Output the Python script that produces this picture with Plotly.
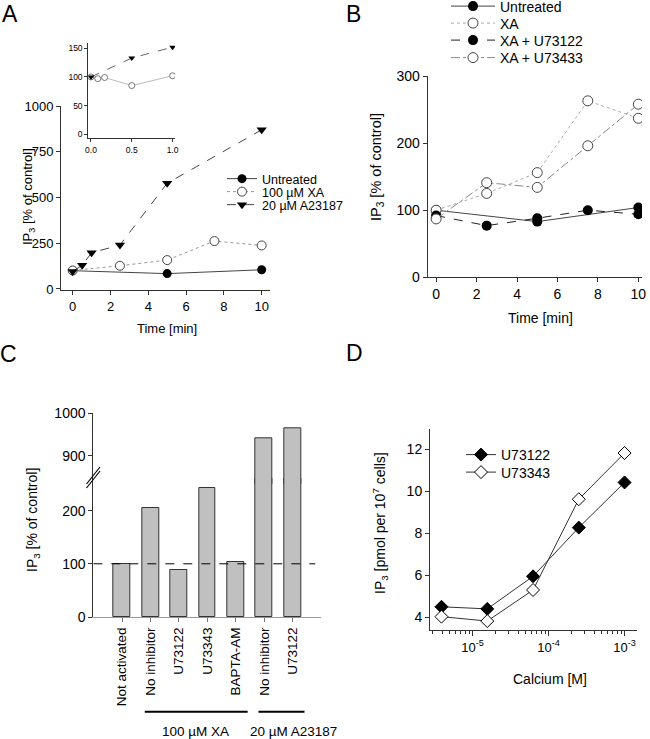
import plotly.graph_objects as go

W, H = 650, 739
FONT = "Liberation Sans, Arial, sans-serif"
AX = "#333333"


def px(x):
    return x / W


def py(y):
    return 1 - y / H


# ---------------- data ----------------
# Panel A (main)
a_untr_t = [0, 5, 10]
a_untr_v = [100, 84, 105]
a_xa_t = [0, 2.5, 5, 7.5, 10]
a_xa_v = [101, 127, 158, 262, 238]
a_a23_t = [0, 0.5, 1, 2.5, 5, 10]
a_a23_v = [96, 130, 198, 240, 578, 870]
# Panel A (inset)
in_a23_t = [0, 0.5, 1.0]
in_a23_v = [100, 133, 152]
in_xa_t = [0, 0.083, 0.167, 0.5, 1.0]
in_xa_v = [100, 97, 99, 85, 102]
# Panel B
b_t = [0, 2.5, 5, 7.5, 10]
b_untr_t = [0, 5, 10]
b_untr_v = [100, 83, 104]
b_xa_v = [100, 125, 156, 263, 237]
b_u73122_v = [92, 77, 88, 100, 94]
b_u73433_v = [87, 141, 134, 196, 258]
# Panel C
c_labels = ["Not activated", "No inhibitor", "U73122", "U73343", "BAPTA-AM",
            "No inhibitor", "U73122"]
c_values = [100, 204, 89, 243, 104, 941, 965]
c_groups = [("100 µM XA", 1, 4), ("20 µM A23187", 5, 6)]
# Panel D
d_ca = [3.9e-6, 1.5625e-5, 6.25e-5, 2.5e-4, 1e-3]
d_u73122 = [4.5, 4.4, 5.95, 8.27, 10.42]
d_u73343 = [4.03, 3.82, 5.3, 9.62, 11.82]

fig = go.Figure()

# ---------------- Panel A ----------------
fig.add_trace(go.Scatter(x=a_untr_t, y=a_untr_v, mode="lines+markers", name="Untreated",
                         line=dict(color="#444", width=1),
                         marker=dict(symbol="circle", size=9, color="black"),
                         xaxis="x", yaxis="y", legend="legend"))
fig.add_trace(go.Scatter(x=a_xa_t, y=a_xa_v, mode="lines+markers", name="100 µM XA",
                         line=dict(color="#999", width=1, dash="dot"),
                         marker=dict(symbol="circle", size=9, color="white",
                                     line=dict(color="#444", width=1)),
                         xaxis="x", yaxis="y", legend="legend2"))
fig.add_trace(go.Scatter(x=a_a23_t, y=a_a23_v, mode="lines+markers", name="20 µM A23187",
                         line=dict(color="#444", width=1, dash="dash"),
                         marker=dict(symbol="triangle-down", size=9, color="black"),
                         xaxis="x", yaxis="y", legend="legend3"))
# inset
fig.add_trace(go.Scatter(x=in_xa_t, y=in_xa_v, mode="lines+markers", showlegend=False,
                         line=dict(color="#bbb", width=1),
                         marker=dict(symbol="circle", size=6, color="white",
                                     line=dict(color="#555", width=0.8)),
                         xaxis="x2", yaxis="y2"))
fig.add_trace(go.Scatter(x=in_a23_t, y=in_a23_v, mode="lines+markers", showlegend=False,
                         line=dict(color="#666", width=1, dash="dash"),
                         marker=dict(symbol="triangle-down", size=6, color="black"),
                         xaxis="x2", yaxis="y2"))

# ---------------- Panel B ----------------
fig.add_trace(go.Scatter(x=b_untr_t, y=b_untr_v, mode="lines+markers", name="Untreated",
                         line=dict(color="#444", width=1),
                         marker=dict(symbol="circle", size=10, color="black"),
                         xaxis="x3", yaxis="y3", legend="legend4"))
fig.add_trace(go.Scatter(x=b_t, y=b_xa_v, mode="lines+markers", name="XA",
                         line=dict(color="#aaa", width=1, dash="dot"),
                         marker=dict(symbol="circle", size=10, color="white",
                                     line=dict(color="#444", width=1)),
                         xaxis="x3", yaxis="y3", legend="legend5"))
fig.add_trace(go.Scatter(x=b_t, y=b_u73122_v, mode="lines+markers", name="XA + U73122",
                         line=dict(color="#222", width=1, dash="dash"),
                         marker=dict(symbol="circle", size=10, color="black"),
                         xaxis="x3", yaxis="y3", legend="legend6"))
fig.add_trace(go.Scatter(x=b_t, y=b_u73433_v, mode="lines+markers", name="XA + U73433",
                         line=dict(color="#888", width=1, dash="dashdot"),
                         marker=dict(symbol="circle", size=10, color="white",
                                     line=dict(color="#444", width=1)),
                         xaxis="x3", yaxis="y3", legend="legend7"))

# ---------------- Panel C ----------------
c_idx = list(range(len(c_labels)))
for xa, ya in (("x4", "y4"), ("x5", "y5")):
    fig.add_trace(go.Bar(x=c_idx, y=c_values, width=0.59, showlegend=False,
                         marker=dict(color="#c0c0c0", line=dict(color="#333", width=1)),
                         xaxis=xa, yaxis=ya))

# ---------------- Panel D ----------------
fig.add_trace(go.Scatter(x=d_ca, y=d_u73122, mode="lines+markers", name="U73122",
                         line=dict(color="#333", width=1),
                         marker=dict(symbol="diamond", size=10, color="black",
                                     line=dict(color="black", width=1)),
                         xaxis="x6", yaxis="y6", legend="legend8"))
fig.add_trace(go.Scatter(x=d_ca, y=d_u73343, mode="lines+markers", name="U73343",
                         line=dict(color="#333", width=1),
                         marker=dict(symbol="diamond", size=10, color="white",
                                     line=dict(color="black", width=1)),
                         xaxis="x6", yaxis="y6", legend="legend9"))


def axis(domain, rng, size, **kw):
    d = dict(domain=domain, range=rng, showgrid=False, zeroline=False, showline=True,
             automargin=False,
             linecolor=AX, linewidth=1, ticks="outside", ticklen=4, tickcolor=AX,
             tickwidth=1, tickfont=dict(size=size, family=FONT, color="black"))
    d.update(kw)
    return d


# minor tick positions for the log axis
minor_vals = [k * 10 ** e for e in (-6, -5, -4) for k in range(2, 10)]

fig.update_layout(
    width=W, height=H, margin=dict(l=0, r=0, t=0, b=0, pad=0, autoexpand=False),
    paper_bgcolor="white", plot_bgcolor="rgba(0,0,0,0)",
    font=dict(family=FONT, color="black"),
    bargap=0,
    # A main
    xaxis=axis([px(61), px(270)], [-0.619, 10.44], 13, anchor="y",
               tickvals=[0, 2, 4, 6, 8, 10]),
    yaxis=axis([py(290), py(106)], [-5.5, 1000], 13, anchor="x",
               tickvals=[0, 250, 500, 750, 1000]),
    # A inset
    xaxis2=axis([px(88.3), px(175)], [-0.033, 1.03], 8.5, anchor="y2",
                tickvals=[0, 0.5, 1.0], ticktext=["0.0", "0.5", "1.0"], ticklen=3),
    yaxis2=axis([py(138.3), py(43.3)], [-7, 158.7], 8.5, anchor="x2",
                tickvals=[0, 50, 100, 150], ticklen=3),
    # B
    xaxis3=axis([px(424), px(642)], [-0.6, 10.18], 14, anchor="y3",
                tickvals=[0, 2, 4, 6, 8, 10]),
    yaxis3=axis([py(277.3), py(76)], [0, 300], 14, anchor="free",
                tickvals=[0, 100, 200, 300], position=px(426.7)),
    # C lower
    xaxis4=axis([px(93.3), px(320.7)], [-1.01, 6.99], 13.5, anchor="y4",
                tickvals=c_idx, ticktext=c_labels, tickangle=-90, linecolor="#999",
                tickcolor="#777"),
    yaxis4=axis([py(617), py(478)], [0, 261.3], 14, anchor="x4",
                tickvals=[0, 100, 200]),
    # C upper
    xaxis5=dict(domain=[px(93.3), px(320.7)], range=[-1.01, 6.99], anchor="y5",
                visible=False),
    yaxis5=axis([py(484), py(413.3)], [834, 1000], 14, anchor="x5",
                tickvals=[900, 1000]),
    # D
    xaxis6=axis([px(430), px(636.7)], [-5.56, -2.84], 13, anchor="y6", type="log",
                tickvals=[1e-5, 1e-4, 1e-3],
                ticktext=["10<sup>-5</sup>", "10<sup>-4</sup>", "10<sup>-3</sup>"],
                ticklen=5,
                minor=dict(ticks="outside", ticklen=3, tickcolor=AX, tickvals=minor_vals,
                           showgrid=False)),
    yaxis6=axis([py(630), py(429.3)], [3.395, 12.95], 14, anchor="x6",
                tickvals=[4, 6, 8, 10, 12]),
)


def leg(x, y, size, iw=30):
    return dict(x=px(x), y=py(y), xanchor="left", yanchor="middle",
                bgcolor="rgba(0,0,0,0)", borderwidth=0, itemwidth=iw,
                font=dict(size=size, family=FONT, color="black"))


fig.update_layout(
    legend=leg(222, 179, 12.5), legend2=leg(222, 192, 12.5), legend3=leg(222, 205, 12.5),
    legend4=leg(446, 6.5, 14, 44), legend5=leg(446, 23.5, 14, 44),
    legend6=leg(446, 40.5, 14, 44), legend7=leg(446, 58, 14, 44),
    legend8=leg(461, 455, 14), legend9=leg(461, 472.5, 14),
)

# ---------------- decorations ----------------
shapes = []
# reference line at 100 % in panel C
shapes.append(dict(type="line", xref="x4", yref="y4", x0=-1.01, x1=6.8, y0=100, y1=100,
                   line=dict(color="black", width=1, dash="dash")))
# axis break marks in panel C
for dy in (0, 4):
    shapes.append(dict(type="line", xref="paper", yref="paper",
                       x0=px(86.5), y0=py(488 + dy - 4), x1=px(100), y1=py(471 + dy - 4),
                       line=dict(color="black", width=1.2)))
# group bars under category labels in panel C
for name, i0, i1 in c_groups:
    shapes.append(dict(type="line", xref="x4", yref="paper", x0=i0 - 0.2, x1=i1 + 0.42,
                       y0=py(711.7), y1=py(711.7), line=dict(color="black", width=2)))
fig.update_layout(shapes=shapes)

ann = []


def text(x, y, s, size, angle=0, xanchor="center"):
    ann.append(dict(x=px(x), y=py(y), xref="paper", yref="paper", text=s, showarrow=False,
                    textangle=angle, xanchor=xanchor, yanchor="middle",
                    font=dict(size=size, family=FONT, color="black")))


# panel letters
text(10, 14, "A", 23)
text(353.5, 14, "B", 23)
text(8.5, 354, "C", 23)
text(355, 353, "D", 23)
# axis titles
IP3_PCT = "IP<sub>3</sub> [% of control]"
text(28, 197, IP3_PCT, 13, -90)
text(166.7, 328, "Time [min]", 13)
text(377, 167, IP3_PCT, 14.5, -90)
text(540, 318, "Time [min]", 14)
text(33, 520, IP3_PCT, 14, -90)
text(380, 523, "IP<sub>3</sub> [pmol per 10<sup>7</sup> cells]", 14, -90)
text(550, 679, "Calcium [M]", 14)
# group labels in panel C
text(195, 731, c_groups[0][0], 13.5)
text(293, 731, c_groups[1][0], 13.5)
fig.update_layout(annotations=ann)

fig.write_html("out.html", config={"displayModeBar": False},
               post_script="document.body.style.margin='0px';")
